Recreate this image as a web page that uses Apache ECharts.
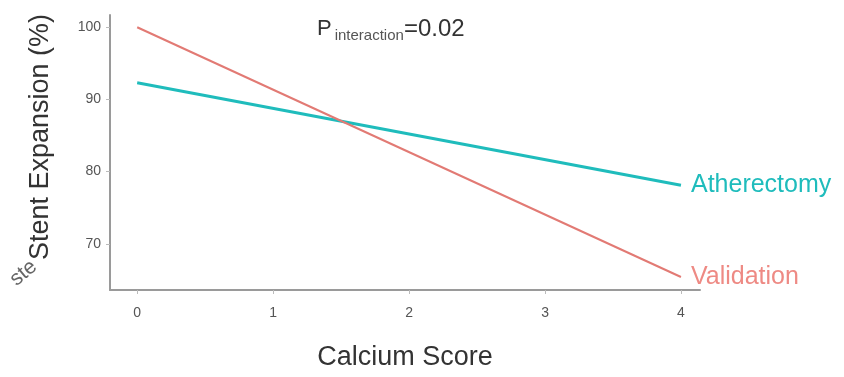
<!DOCTYPE html>
<html>
<head>
<meta charset="utf-8">
<script src="https://cdn.jsdelivr.net/npm/echarts@6/dist/echarts.min.js"></script>
<style>
  html, body { margin: 0; padding: 0; background: #fff; }
  #chart { width: 844px; height: 377px; }
</style>
</head>
<body>
<div id="chart"></div>
<script>
// calcium score at the ends of each fitted line
const calciumScore = [0, 4];
const atherectomy = [92.3, 78.1]; // teal
const validation = [100, 65.4];   // red
const xTicks = [0, 1, 2, 3, 4];
const yTicks = [70, 80, 90, 100];

const chartDom = document.getElementById("chart");
const myChart = echarts.init(chartDom);

const toPairs = (ys) => calciumScore.map((x, i) => [x, ys[i]]);
const FONT = "Liberation Sans";

const options = {
  animation: false,
  grid: { left: 110, top: 15, width: 590, height: 275, containLabel: false, outerBoundsMode: "none" },
  xAxis: {
    type: "value",
    min: -0.2,
    max: 4.14,
    name: "Calcium Score",
    nameLocation: "middle",
    nameGap: 54,
    nameTextStyle: { color: "#333", fontSize: 27, fontFamily: FONT },
    axisLine: { show: true, onZero: false, lineStyle: { color: "#9a9a9a", width: 2 } },
    axisTick: { show: true, customValues: xTicks, length: 4, lineStyle: { color: "#bbb" } },
    axisLabel: { customValues: xTicks, color: "#555", fontSize: 14, margin: 16, fontFamily: FONT },
    splitLine: { show: false },
  },
  yAxis: {
    type: "value",
    min: 63.6,
    max: 101.7,
    axisLine: { show: true, onZero: false, lineStyle: { color: "#9a9a9a", width: 2 } },
    axisTick: { show: true, customValues: yTicks, length: 4, lineStyle: { color: "#bbb" } },
    axisLabel: { customValues: yTicks, color: "#555", fontSize: 14, margin: 9, fontFamily: FONT },
    splitLine: { show: false },
  },
  series: [
    {
      name: "Atherectomy",
      type: "line",
      data: toPairs(atherectomy),
      symbol: "none",
      lineStyle: { color: "#1fbcbc", width: 3 },
      endLabel: {
        show: true,
        formatter: "{a}",
        color: "#1fbcbc",
        fontSize: 25,
        distance: 10,
        fontFamily: FONT,
      },
    },
    {
      name: "Validation",
      type: "line",
      data: toPairs(validation),
      symbol: "none",
      lineStyle: { color: "#e27a74", width: 2 },
      endLabel: {
        show: true,
        formatter: "{a}",
        color: "#ee8a84",
        fontSize: 25,
        distance: 10,
        fontFamily: FONT,
      },
    },
  ],
  graphic: [
    {
      type: "text",
      x: 41,
      y: 137,
      rotation: Math.PI / 2,
      style: {
        text: "Stent Expansion (%)",
        fontSize: 27,
        fill: "#333",
        fontFamily: FONT,
        align: "center",
        verticalAlign: "middle",
      },
    },
    {
      type: "text",
      left: 317,
      top: 17,
      style: {
        text: "{p|P}{s|interaction}{v|=0.02}",
        rich: {
          p: { fontSize: 22, fill: "#333", fontFamily: FONT },
          s: { fontSize: 15, fill: "#555", fontFamily: FONT, padding: [14, 0, 0, 3] },
          v: { fontSize: 24, fill: "#333", fontFamily: FONT },
        },
      },
    },
    {
      type: "text",
      x: 6,
      y: 274,
      rotation: Math.PI / 4.5,
      style: { text: "ste", fontSize: 21, fill: "#666", fontFamily: FONT },
    },
  ],
};

myChart.setOption(options);
</script>
</body>
</html>
